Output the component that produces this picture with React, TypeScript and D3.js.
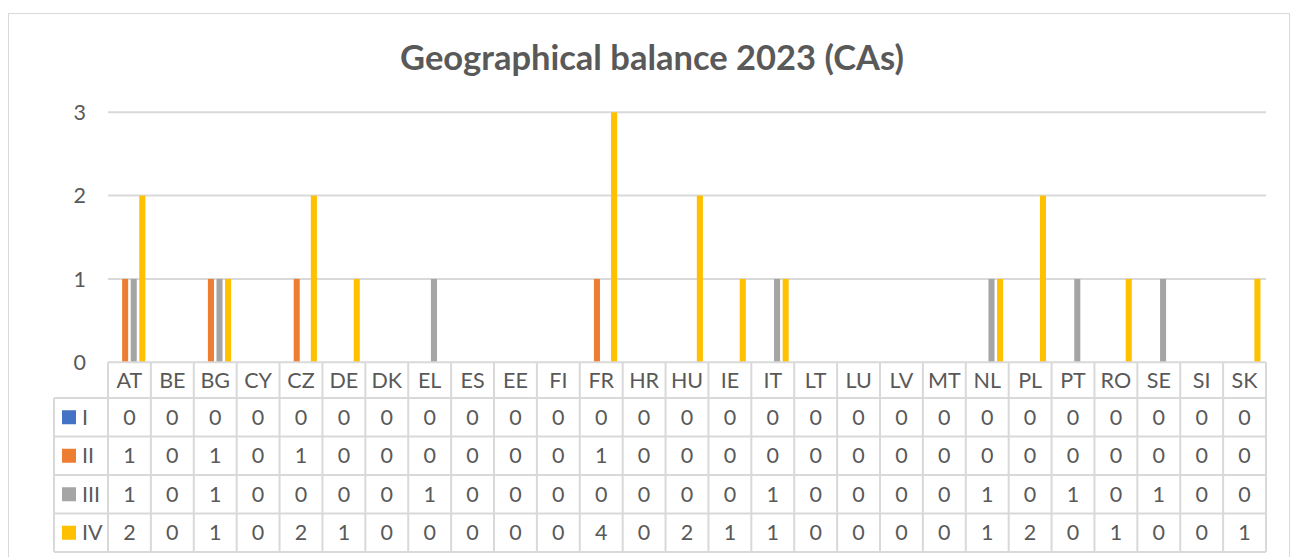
import React from "react";
import * as d3 from "d3";

const categories = ["AT","BE","BG","CY","CZ","DE","DK","EL","ES","EE","FI","FR","HR","HU","IE","IT","LT","LU","LV","MT","NL","PL","PT","RO","SE","SI","SK"];
const seriesNames = ["I","II","III","IV"];
const seriesI =   [0,0,0,0,0,0,0,0,0,0,0,0,0,0,0,0,0,0,0,0,0,0,0,0,0,0,0];
const seriesII =  [1,0,1,0,1,0,0,0,0,0,0,1,0,0,0,0,0,0,0,0,0,0,0,0,0,0,0];
const seriesIII = [1,0,1,0,0,0,0,1,0,0,0,0,0,0,0,1,0,0,0,0,1,0,1,0,1,0,0];
const seriesIV =  [2,0,1,0,2,1,0,0,0,0,0,4,0,2,1,1,0,0,0,0,1,2,0,1,0,0,1];
const yTicks = [0,1,2,3];
const title = "Geographical balance 2023 (CAs)";

const seriesValues = [seriesI, seriesII, seriesIII, seriesIV];
const colors = ["#4472C4","#ED7D31","#A5A5A5","#FFC000"];

export default function App() {
  const W = 1298, H = 557;
  const plotL = 108, plotR = 1266, y0 = 362.3, y3 = 112.2;
  const headerBottom = 398;
  const rowH = 38.5;
  const legendL = 54;
  const textColor = "#595959";
  const lineColor = "#D9D9D9";
  const font = "Lato, 'Open Sans', sans-serif";
  const fs = 21.5;

  const x = d3.scaleBand<string>().domain(categories).range([plotL, plotR]).paddingInner(0).paddingOuter(0);
  const xs = d3.scaleBand<string>().domain(seriesNames).range([0, x.bandwidth()]).paddingInner(0.294).paddingOuter(0.647);
  const y = d3.scaleLinear().domain([0, 3]).range([y0, y3]);

  const rowsTop = (i: number) => headerBottom + i * rowH;

  return (
    <svg width={W} height={H} style={{ position: "absolute", left: 0, top: 0 }} fontFamily={font}>
      <defs>
        <clipPath id="plotClip">
          <rect x={plotL} y={y3} width={plotR - plotL} height={y0 - y3} />
        </clipPath>
      </defs>
      <rect x={0} y={0} width={W} height={H} fill="#fff" />
      <rect x={8.5} y={13.5} width={1281} height={600} fill="#fff" stroke={lineColor} strokeWidth={1} />
      <text x={652} y={70} textAnchor="middle" fontSize={34.5} fontWeight={700} fill={textColor}>{title}</text>

      {yTicks.map((t) => (
        <g key={t}>
          {t > 0 && <line x1={plotL} x2={plotR} y1={y(t)} y2={y(t)} stroke={lineColor} strokeWidth={2} />}
          <text x={86} y={y(t)} dy="0.36em" textAnchor="end" fontSize={fs} fill={textColor}>{t}</text>
        </g>
      ))}

      <g clipPath="url(#plotClip)">
        {seriesValues.map((vals, si) =>
          vals.map((v, ci) =>
            v > 0 ? (
              <rect key={`${si}-${ci}`} x={(x(categories[ci]) ?? 0) + (xs(seriesNames[si]) ?? 0)} y={y(v)} width={xs.bandwidth()} height={y0 - y(v)} fill={colors[si]} />
            ) : null
          )
        )}
      </g>

      {/* table */}
      <g stroke={lineColor} strokeWidth={2}>
        <line x1={plotL} x2={plotR} y1={y0} y2={y0} />
        {seriesNames.map((s, i) => (
          <line key={s} x1={legendL} x2={plotR} y1={rowsTop(i)} y2={rowsTop(i)} />
        ))}
        <line x1={legendL} x2={plotR} y1={rowsTop(4)} y2={rowsTop(4)} />
        <line x1={legendL} x2={legendL} y1={headerBottom} y2={rowsTop(4)} />
        {categories.map((c) => (
          <line key={c} x1={x(c)} x2={x(c)} y1={y0} y2={rowsTop(4)} />
        ))}
        <line x1={plotR} x2={plotR} y1={y0} y2={rowsTop(4)} />
      </g>
      {categories.map((c) => (
        <text key={c} x={(x(c) ?? 0) + x.bandwidth() / 2} y={(y0 + headerBottom) / 2} dy="0.36em" textAnchor="middle" fontSize={fs} fill={textColor}>{c}</text>
      ))}
      {seriesNames.map((s, si) => (
        <g key={s}>
          <rect x={62} y={rowsTop(si) + rowH / 2 - 7} width={14} height={14} fill={colors[si]} />
          <text x={82} y={rowsTop(si) + rowH / 2} dy="0.36em" fontSize={fs} fill={textColor}>{s}</text>
          {seriesValues[si].map((v, ci) => (
            <text key={ci} x={(x(categories[ci]) ?? 0) + x.bandwidth() / 2} y={rowsTop(si) + rowH / 2} dy="0.36em" textAnchor="middle" fontSize={fs} fill={textColor}>{v}</text>
          ))}
        </g>
      ))}
    </svg>
  );
}
